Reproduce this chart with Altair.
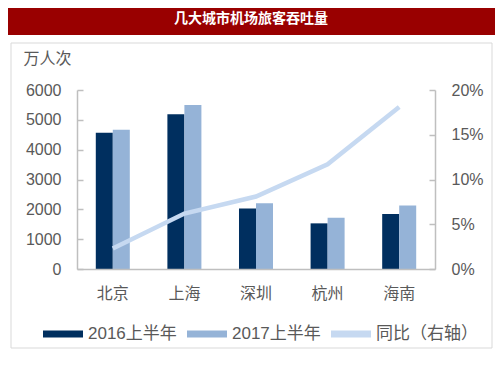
import altair as alt
import pandas as pd

cities = ["北京", "上海", "深圳", "杭州", "海南"]
h1_2016 = [4570, 5190, 2030, 1530, 1840]
h1_2017 = [4670, 5500, 2200, 1720, 2130]
yoy = [0.023, 0.062, 0.081, 0.117, 0.181]
series = ["2016上半年", "2017上半年", "同比（右轴）"]
colors = ["#002f5f", "#95b3d7", "#c6d9f1"]
left_ticks = [0, 1000, 2000, 3000, 4000, 5000, 6000]
right_ticks = [0, 0.05, 0.10, 0.15, 0.20]
title_text = "几大城市机场旅客吞吐量"
unit_text = "万人次"

FONT = "Liberation Sans, Noto Sans CJK SC, sans-serif"
TEXT = "#595959"
AXIS = "#bfbfbf"

bar_df = pd.DataFrame({
    "city": cities * 2,
    "series": [series[0]] * len(cities) + [series[1]] * len(cities),
    "value": h1_2016 + h1_2017,
})
line_df = pd.DataFrame({"city": cities, "yoy": yoy, "series": series[2]})
one = pd.DataFrame({"a": [0]})

W, H = 358, 179

x_enc = alt.X("city:N", sort=cities,
              scale=alt.Scale(paddingInner=0.525, paddingOuter=0.2625),
              axis=alt.Axis(title=None, labelFontSize=16, labelColor=TEXT, labelPadding=16,
                            ticks=False, domainColor=AXIS, domainWidth=1.5, labelAngle=0,
                            labelFont=FONT, zindex=1))

box = alt.Chart(one).mark_rect(fill="white", stroke="#d9d9d9", strokeWidth=1).encode(
    x=alt.value(-66), x2=alt.value(415), y=alt.value(-47), y2=alt.value(258))
banner = alt.Chart(one).mark_rect(fill="#990000").encode(
    x=alt.value(-69), x2=alt.value(418), y=alt.value(-82), y2=alt.value(-55))
banner_text = alt.Chart(one).mark_text(
    text=title_text, color="white", fontSize=14, fontWeight="bold",
    font="Noto Sans CJK SC", align="center", baseline="middle").encode(
    x=alt.value(174), y=alt.value(-71))

bars = alt.Chart(bar_df).mark_bar().encode(
    x=x_enc,
    xOffset=alt.XOffset("series:N", sort=series[:2], scale=alt.Scale(paddingInner=0, paddingOuter=0)),
    y=alt.Y("value:Q", scale=alt.Scale(domain=[0, 6000]),
            axis=alt.Axis(orient="left", values=left_ticks, format="d", title=unit_text,
                          titleAngle=0, titleX=-54, titleY=-32, titleAlign="left",
                          titleBaseline="middle", titleFontSize=16, titleFontWeight="normal",
                          titleColor=TEXT, titleFont=FONT, labelFont=FONT,
                          labelFontSize=16, labelColor=TEXT, labelPadding=16,
                          ticks=False, grid=False, domainColor=AXIS, domainWidth=1.5, zindex=1)),
    color=alt.Color("series:N", scale=alt.Scale(domain=series, range=colors),
                    legend=alt.Legend(title=None, orient="none", legendX=-34, legendY=224,
                                      direction="horizontal",
                                      symbolType="M-1,-0.17L1,-0.17L1,0.17L-1,0.17Z",
                                      symbolSize=1600, symbolStrokeWidth=0,
                                      labelFontSize=17, labelColor=TEXT, labelFont=FONT,
                                      columnPadding=10, labelOffset=5)),
)

left_tick_layer = alt.Chart(bar_df).mark_point(opacity=0).encode(
    x=alt.X("city:N", sort=cities),
    y=alt.Y("value:Q", scale=alt.Scale(domain=[0, 6000]),
            axis=alt.Axis(orient="left", values=left_ticks, offset=-6, tickSize=6,
                          labels=False, domain=False, grid=False, title=None,
                          tickColor=AXIS, tickWidth=1.5, zindex=1)),
)

line = alt.Chart(line_df).mark_line(color="#c6d9f1", strokeWidth=4.5).encode(
    x=alt.X("city:N", sort=cities),
    y=alt.Y("yoy:Q", scale=alt.Scale(domain=[0, 0.2]),
            axis=alt.Axis(orient="right", values=right_ticks, format=".0%", title=None,
                          labelFontSize=16, labelColor=TEXT, labelPadding=16, labelFont=FONT,
                          ticks=False, grid=False, domainColor=AXIS, domainWidth=1.5, zindex=1)),
)

right_tick_layer = alt.Chart(line_df).mark_point(opacity=0).encode(
    x=alt.X("city:N", sort=cities),
    y=alt.Y("yoy:Q", scale=alt.Scale(domain=[0, 0.2]),
            axis=alt.Axis(orient="right", values=right_ticks, offset=-6, tickSize=6,
                          labels=False, domain=False, grid=False, title=None,
                          tickColor=AXIS, tickWidth=1.5, zindex=1)),
)

chart = alt.layer(box, banner, banner_text, bars, left_tick_layer, line, right_tick_layer).resolve_scale(
    y="independent"
).properties(
    width=W, height=H,
    padding={"left": 69, "top": 82, "right": 60, "bottom": 101},
    autosize=alt.AutoSizeParams(type="none"),
    background="white",
).configure_view(stroke=None)

chart.save("out.html", embed_options={"renderer": "svg", "actions": False})
